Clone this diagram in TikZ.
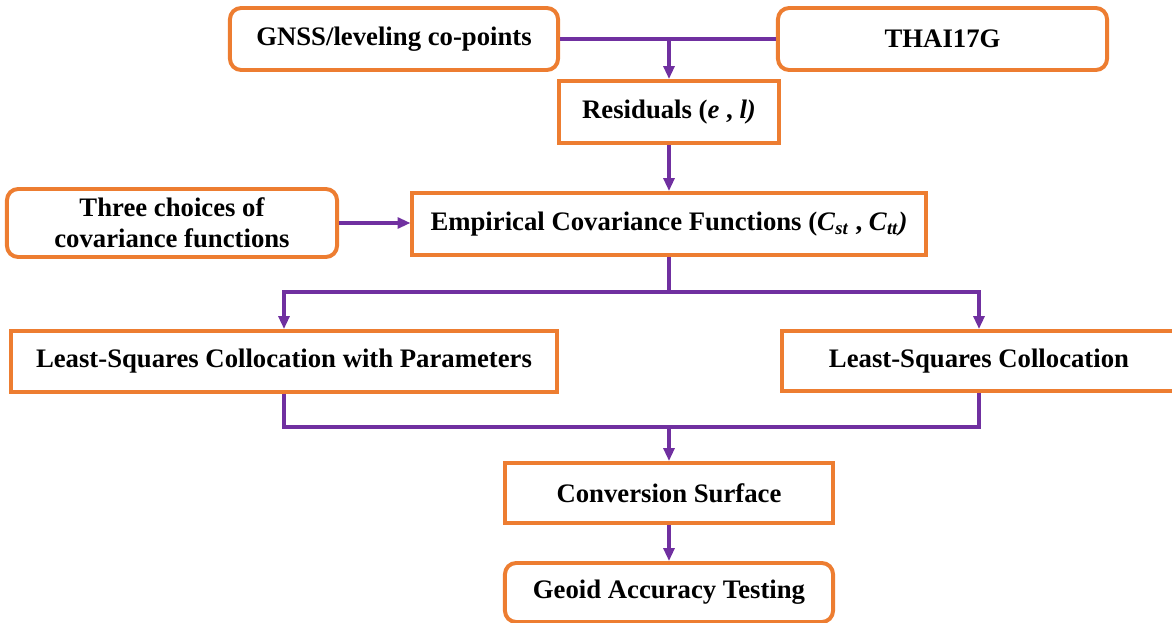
\documentclass[tikz,border=0pt]{standalone}
\usepackage{fontspec}
\setmainfont{Liberation Serif}
\usepackage{tikz}
\usetikzlibrary{arrows.meta}

\definecolor{boxorange}{HTML}{ED7D31}
\definecolor{linepurple}{HTML}{7030A0}

\tikzset{
	box/.style		= {rectangle, draw = boxorange, line width = 2.8pt, fill = white, align = center,
					   font = \fontsize{19}{22}\selectfont\bfseries, inner sep = 0pt},
	roundbox/.style	= {box, rounded corners = 0.28cm},
	link/.style		= {draw = linepurple, line width = 2.2pt},
	flow/.style		= {link, -{Triangle[length = 0.32cm, width = 0.27cm]}}
}

\begin{document}
\begin{tikzpicture}[x = 0.025cm, y = -0.025cm]
\useasboundingbox (0, 0) rectangle (1172, 623);

\path	(394, 39)		node(gnss)			[roundbox, minimum width = 8.2cm, minimum height = 1.55cm]		{GNSS/leveling co-points}
		(942.5, 39)		node(thai)			[roundbox, minimum width = 8.225cm, minimum height = 1.55cm]	{THAI17G}
		(669, 112)		node(residuals)		[box, minimum width = 5.5cm, minimum height = 1.55cm]			{Residuals (\textit{e} , \textit{l)}}
		(172, 223)		node(choices)		[roundbox, minimum width = 8.25cm, minimum height = 1.7cm]		{Three choices of\\covariance functions}
		(669, 224)		node(empirical)		[box, minimum width = 12.825cm, minimum height = 1.55cm]		{Empirical Covariance Functions (\textit{C}\textsubscript{\textit{st}} , \textit{C}\textsubscript{\textit{tt}}\textit{)}}
		(284, 361.5)	node(lscp)			[box, minimum width = 13.65cm, minimum height = 1.525cm]		{Least-Squares Collocation with Parameters}
		(979, 361)		node(lsc)			[box, minimum width = 9.85cm, minimum height = 1.5cm]			{Least-Squares Collocation}
		(669, 493)		node(conversion)	[box, minimum width = 8.2cm, minimum height = 1.5cm]			{Conversion Surface}
		(669, 592.5)	node(geoid)			[roundbox, minimum width = 8.2cm, minimum height = 1.475cm]		{Geoid Accuracy Testing};

\coordinate (split) at (669, 292);
\coordinate (merge) at (669, 427);

% inputs
\draw[link]	(gnss.east)			--						(thai.west);
\draw[flow]	(residuals |- gnss)	--						(residuals.north);
\draw[flow]	(residuals.south)	--						(empirical.north);
\draw[flow]	(choices.east)		--						(choices.east -| empirical.west);

% two collocation branches
\draw[link]	(empirical.south)	--						(split);
\draw[flow]	(split)				-|						(lscp.north);
\draw[flow]	(split)				-|						(lsc.north);
\draw[link]	(lscp.south)		|-						(merge);
\draw[link]	(lsc.south)			|-						(merge);

\draw[flow]	(merge)				--						(conversion.north);
\draw[flow]	(conversion.south)	--						(geoid.north);
\end{tikzpicture}
\end{document}
